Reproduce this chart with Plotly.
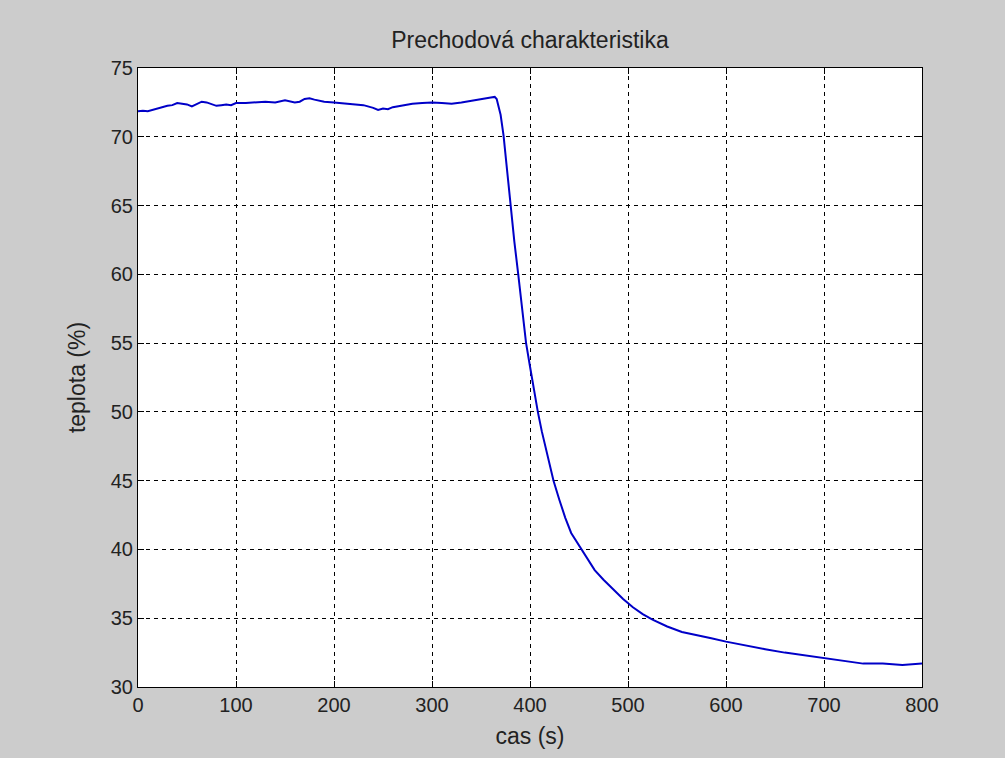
import plotly.graph_objects as go

time_s = [0, 5, 10, 15, 20, 25, 30, 35, 40, 45, 50, 55, 60, 65, 70, 75, 80, 85, 90, 95,
          100, 110, 120, 130, 140, 150, 160, 165, 170, 175, 180, 185, 190, 200, 210, 220,
          230, 240, 245, 250, 255, 260, 270, 280, 290, 300, 310, 320, 330, 340, 350, 355,
          360, 364, 366, 370, 373, 376, 380, 384, 388, 392, 396, 400, 404, 408, 412, 418,
          424, 430, 436, 442, 450, 458, 466, 475, 485, 495, 505, 515, 525, 540, 555, 570,
          585, 600, 620, 640, 660, 680, 700, 720, 740, 760, 780, 800]
teplota = [71.85, 71.9, 71.85, 71.95, 72.1, 72.2, 72.25, 72.3, 72.45, 72.4, 72.35, 72.2,
           72.4, 72.55, 72.5, 72.35, 72.25, 72.3, 72.35, 72.3, 72.45, 72.45, 72.5, 72.55,
           72.5, 72.65, 72.5, 72.55, 72.75, 72.8, 72.7, 72.6, 72.55, 72.5, 72.45, 72.35,
           72.3, 72.1, 71.95, 72.05, 72.0, 72.15, 72.3, 72.4, 72.45, 72.5, 72.45, 72.4,
           72.5, 72.6, 72.7, 72.75, 72.85, 72.9, 72.75, 71.6, 70.1, 68.0, 65.0, 62.4,
           60.0, 57.5, 55.0, 53.3, 51.6, 50.0, 48.6, 46.7, 45.0, 43.6, 42.3, 41.2, 40.3,
           39.3, 38.5, 37.8, 37.1, 36.4, 35.8, 35.3, 34.9, 34.4, 34.0, 33.8, 33.55, 33.3,
           33.0, 32.75, 32.5, 32.3, 32.1, 31.9, 31.7, 31.7, 31.6, 31.7]

x_ticks = [0, 100, 200, 300, 400, 500, 600, 700, 800]
y_ticks = [30, 35, 40, 45, 50, 55, 60, 65, 70, 75]

FONT = "Liberation Sans"

fig = go.Figure()
fig.add_trace(go.Scatter(x=time_s, y=teplota, mode="lines",
                         line=dict(color="#0000c8", width=2), showlegend=False))

axis_common = dict(
    showline=True, linecolor="black", linewidth=1, mirror="ticks",
    ticks="inside", ticklen=6, tickcolor="black", tickwidth=1,
    showgrid=True, gridcolor="black", gridwidth=1, griddash="4px,4px",
    zeroline=False, tickfont=dict(family=FONT, size=20, color="#222222"),
)

fig.update_xaxes(range=[0, 800], tickvals=x_ticks, ticktext=[str(v) for v in x_ticks],
                 title=dict(text="cas (s)", font=dict(family=FONT, size=23, color="#222222"),
                            standoff=12),
                 **axis_common)
fig.update_yaxes(range=[30, 75], tickvals=y_ticks, ticktext=[str(v) for v in y_ticks],
                 title=dict(text="teplota (%)", font=dict(family=FONT, size=23, color="#222222"),
                            standoff=18),
                 **axis_common)

fig.update_layout(
    width=1005, height=758,
    paper_bgcolor="#cccccc", plot_bgcolor="white",
    margin=dict(l=138, r=83, t=68, b=71),
    title=dict(text="Prechodová charakteristika", x=0.5, xref="paper", xanchor="center",
               y=1 - 40 / 758, yanchor="middle",
               font=dict(family=FONT, size=23, color="#222222")),
)

fig.write_html("out.html", config={"displayModeBar": False},
               post_script="document.body.style.margin='0';document.body.style.background='#cccccc';")
